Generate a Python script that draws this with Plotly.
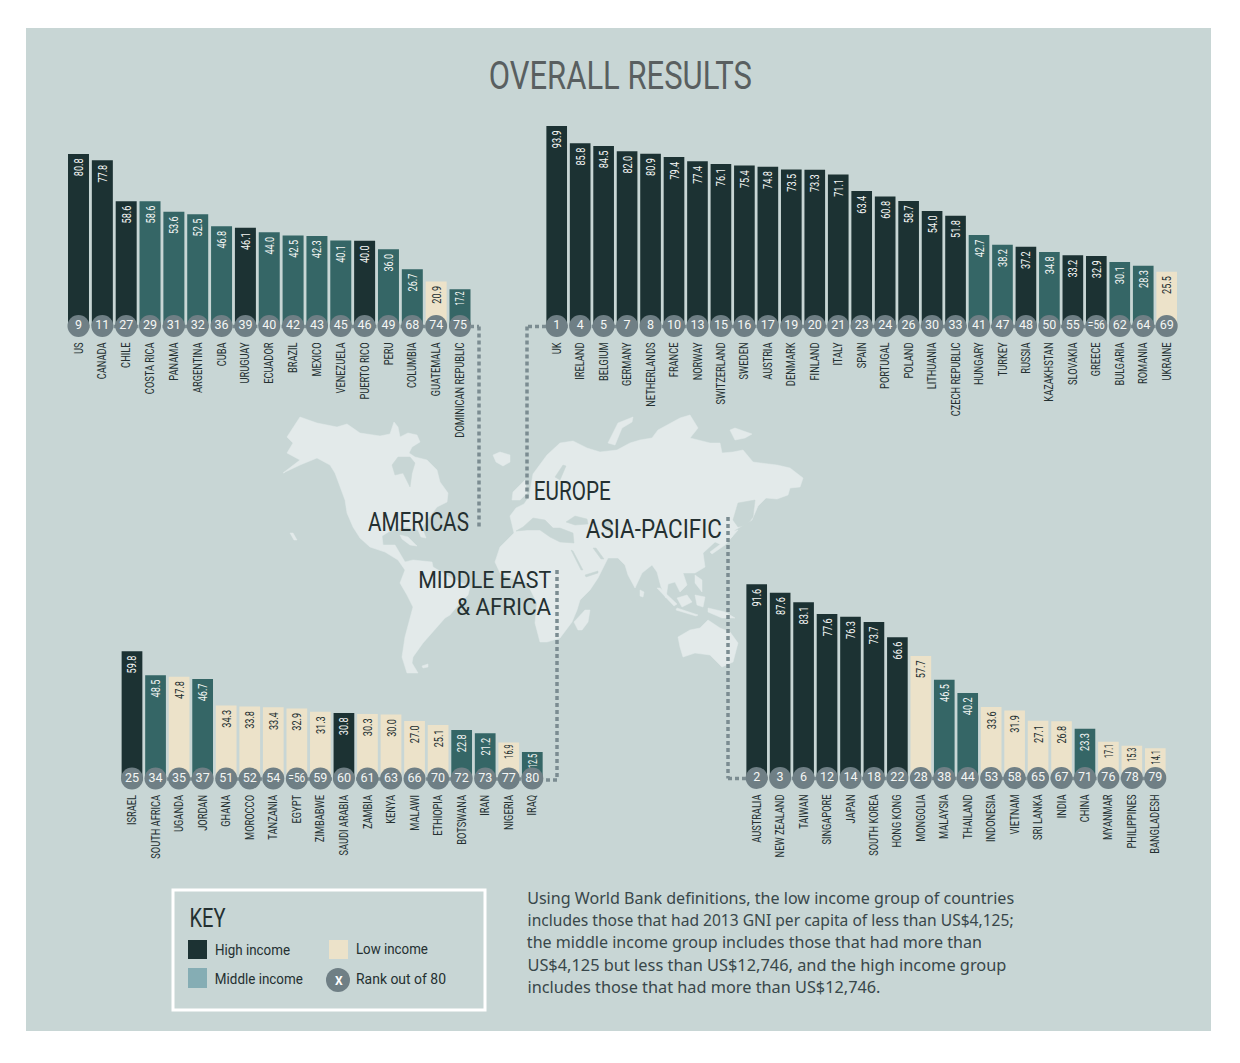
import json

import plotly.graph_objects as go

W, H = 1240, 1063
FONT = "Roboto, sans-serif"
BODY = "Noto Sans, sans-serif"

HIGH, MIDDLE, LOW = "#1c3233", "#356666", "#ece2c9"
KEY_MIDDLE = "#85adb4"
PANEL = "#c8d6d5"
LAND = "#e3eaea"
BADGE = "#6f7f85"
DOTS = "#7b8c91"
INK = "#243031"

income_colors = {"H": HIGH, "M": MIDDLE, "L": LOW}

americas_countries = ["US", "CANADA", "CHILE", "COSTA RICA", "PANAMA", "ARGENTINA", "CUBA", "URUGUAY", "ECUADOR",
                      "BRAZIL", "MEXICO", "VENEZUELA", "PUERTO RICO", "PERU", "COLUMBIA", "GUATEMALA",
                      "DOMINICAN REPUBLIC"]
americas_values = [80.8, 77.8, 58.6, 58.6, 53.6, 52.5, 46.8, 46.1, 44.0, 42.5, 42.3, 40.1, 40.0, 36.0, 26.7, 20.9, 17.2]
americas_ranks = ["9", "11", "27", "29", "31", "32", "36", "39", "40", "42", "43", "45", "46", "49", "68", "74", "75"]
americas_income = list("HHHMMMMHMMMMHMMLM")

europe_countries = ["UK", "IRELAND", "BELGIUM", "GERMANY", "NETHERLANDS", "FRANCE", "NORWAY", "SWITZERLAND", "SWEDEN",
                    "AUSTRIA", "DENMARK", "FINLAND", "ITALY", "SPAIN", "PORTUGAL", "POLAND", "LITHUANIA",
                    "CZECH REPUBLIC", "HUNGARY", "TURKEY", "RUSSIA", "KAZAKHSTAN", "SLOVAKIA", "GREECE", "BULGARIA",
                    "ROMANIA", "UKRAINE"]
europe_values = [93.9, 85.8, 84.5, 82.0, 80.9, 79.4, 77.4, 76.1, 75.4, 74.8, 73.5, 73.3, 71.1, 63.4, 60.8, 58.7, 54.0,
                 51.8, 42.7, 38.2, 37.2, 34.8, 33.2, 32.9, 30.1, 28.3, 25.5]
europe_ranks = ["1", "4", "5", "7", "8", "10", "13", "15", "16", "17", "19", "20", "21", "23", "24", "26", "30", "33",
                "41", "47", "48", "50", "55", "=56", "62", "64", "69"]
europe_income = list("HHHHHHHHHHHHHHHHHHMMHMHHMML")

mea_countries = ["ISRAEL", "SOUTH AFRICA", "UGANDA", "JORDAN", "GHANA", "MOROCCO", "TANZANIA", "EGYPT", "ZIMBABWE",
                 "SAUDI ARABIA", "ZAMBIA", "KENYA", "MALAWI", "ETHIOPIA", "BOTSWANA", "IRAN", "NIGERIA", "IRAQ"]
mea_values = [59.8, 48.5, 47.8, 46.7, 34.3, 33.8, 33.4, 32.9, 31.3, 30.8, 30.3, 30.0, 27.0, 25.1, 22.8, 21.2, 16.9, 12.5]
mea_ranks = ["25", "34", "35", "37", "51", "52", "54", "=56", "59", "60", "61", "63", "66", "70", "72", "73", "77", "80"]
mea_income = list("HMLMLLLLLHLLLLMMLM")

apac_countries = ["AUSTRALIA", "NEW ZEALAND", "TAIWAN", "SINGAPORE", "JAPAN", "SOUTH KOREA", "HONG KONG", "MONGOLIA",
                  "MALAYSIA", "THAILAND", "INDONESIA", "VIETNAM", "SRI LANKA", "INDIA", "CHINA", "MYANMAR",
                  "PHILIPPINES", "BANGLADESH"]
apac_values = [91.6, 87.6, 83.1, 77.6, 76.3, 73.7, 66.6, 57.7, 46.5, 40.2, 33.6, 31.9, 27.1, 26.8, 23.3, 17.1, 15.3, 14.1]
apac_ranks = ["2", "3", "6", "12", "14", "18", "22", "28", "38", "44", "53", "58", "65", "67", "71", "76", "78", "79"]
apac_income = list("HHHHHHHLMMLLLLMLLL")

# rough coastlines, traced in picture pixels
land_shapes = [
    # north + central + south america
    [(287, 437), (300, 417), (317, 423), (337, 427), (347, 424), (360, 433), (380, 436), (390, 434), (394, 422),
     (398, 427), (400, 437), (408, 433), (417, 435), (420, 442), (412, 447), (409, 453), (415, 457), (427, 460),
     (437, 470), (440, 482), (448, 493), (447, 502), (437, 507), (433, 512), (427, 520), (422, 528), (426, 538),
     (421, 537), (418, 530), (407, 527), (390, 531), (382, 536), (383, 545), (395, 545), (400, 553), (405, 562),
     (413, 560), (432, 562), (433, 567), (450, 577), (470, 587), (468, 595), (460, 603), (450, 615), (445, 618),
     (432, 633), (423, 643), (413, 657), (412, 663), (418, 673), (407, 673), (402, 657), (405, 637), (413, 607),
     (407, 595), (400, 583), (405, 570), (398, 560), (385, 552), (370, 547), (360, 538), (353, 527), (347, 513),
     (345, 500), (335, 473), (330, 465), (317, 458), (300, 465), (283, 473), (300, 460), (287, 453), (293, 443)],
    # europe, asia, africa
    [(510, 516), (516, 508), (524, 504), (529, 497), (533, 474), (547, 455), (560, 443), (573, 441), (587, 448),
     (600, 452), (617, 450), (630, 443), (640, 440), (652, 438), (658, 430), (680, 418), (690, 415), (698, 428),
     (690, 438), (710, 443), (720, 443), (722, 453), (733, 452), (743, 450), (753, 462), (777, 465), (790, 468),
     (803, 478), (800, 487), (790, 488), (788, 495), (777, 499), (766, 498), (758, 506), (752, 520), (745, 524),
     (735, 530), (732, 537), (722, 545), (715, 542), (708, 548), (703, 553), (705, 567), (695, 573), (683, 573),
     (687, 585), (680, 592), (675, 582), (668, 584), (666, 598), (661, 587), (657, 572), (652, 565), (642, 573),
     (635, 588), (628, 575), (625, 565), (618, 558), (608, 558), (603, 568), (598, 578), (590, 590), (580, 600),
     (577, 610), (572, 622), (560, 638), (547, 642), (540, 642), (535, 623), (537, 603), (527, 583), (510, 578),
     (500, 573), (495, 562), (500, 547), (510, 537), (514, 533)],
    # madagascar, britain, iceland, novaya zemlya, arctic island
    [(578, 630), (574, 622), (585, 610), (590, 610), (588, 622), (582, 630)],
    [(512, 500), (513, 492), (518, 487), (525, 480), (527, 493), (520, 500)],
    [(493, 455), (500, 452), (510, 455), (510, 462), (503, 466), (496, 462)],
    [(608, 443), (618, 423), (633, 417), (632, 422), (622, 428), (615, 445)],
    [(730, 430), (735, 428), (752, 434), (745, 438), (735, 440)],
    # japan, south-east asia, australia
    [(735, 531), (738, 530), (725, 545), (712, 554), (710, 552), (722, 543)],
    [(657, 588), (660, 588), (677, 604), (674, 606)],
    [(677, 608), (698, 615), (696, 616), (676, 610)],
    [(677, 598), (687, 595), (692, 602), (682, 607)],
    [(695, 595), (705, 597), (703, 607), (697, 605)],
    [(695, 575), (702, 580), (702, 592), (695, 583)],
    [(708, 608), (725, 612), (735, 618), (722, 618), (708, 612)],
    [(640, 590), (644, 592), (643, 597), (640, 596)],
    [(678, 637), (690, 630), (700, 628), (708, 620), (720, 628), (730, 632), (738, 643), (733, 662), (722, 667),
     (710, 655), (695, 653), (683, 657), (680, 647)],
    # cuba, hawaii, falklands
    [(400, 535), (408, 537), (417, 546), (410, 545), (402, 539)],
    [(290, 533), (293, 533), (297, 540), (294, 540)],
    [(422, 666), (428, 664), (428, 667), (423, 668)],
]
water_shapes = [
    # hudson bay, mediterranean, black sea, caspian, baltic, red sea, aden, persian gulf, okhotsk
    [(392, 465), (398, 457), (410, 457), (415, 463), (412, 473), (410, 487), (403, 473), (395, 475)],
    [(516, 531), (523, 527), (533, 518), (545, 520), (553, 528), (560, 528), (573, 533), (574, 543), (560, 542),
     (550, 537), (540, 530), (527, 530)],
    [(566, 522), (575, 516), (587, 519), (588, 524), (575, 525)],
    [(604, 520), (610, 520), (611, 532), (605, 530)],
    [(555, 477), (563, 465), (566, 466), (560, 480)],
    [(571, 550), (573, 551), (583, 570), (581, 570)],
    [(585, 575), (598, 571), (598, 573), (586, 577)],
    [(593, 548), (596, 548), (604, 559), (601, 559)],
    [(738, 503), (755, 500), (753, 517), (747, 525), (738, 527), (733, 520)],
]

# dotted connectors between each chart and its map label
connectors = [
    [(470, 326.5), (479, 326.5), (479, 528)],
    [(546, 326.5), (527, 326.5), (527, 500)],
    [(728, 517), (728, 778.5), (747, 778.5)],
    [(557, 570), (557, 780), (543, 780)],
]

# text, left edge, right edge, middle y, font size
title_label = ("OVERALL RESULTS", 489, 752, 76, 38)
region_labels = [
    ("AMERICAS", 368, 469, 522, 26),
    ("EUROPE", 534, 611, 491, 26),
    ("ASIA-PACIFIC", 586, 722, 529, 26),
]
mea_label_lines = ["MIDDLE EAST", "& AFRICA"]
mea_line_widths = [133, 95]
key_labels = [
    ("KEY", 189, 225, 918, 25),
    ("High income", 215, 290, 949.5, 15.5),
    ("Middle income", 215, 303, 978.5, 15.5),
    ("Low income", 356, 428, 948.5, 15.5),
    ("Rank out of 80", 356, 446, 978.5, 15.5),
]
note_labels = [
    ("Using World Bank definitions, the low income group of countries", 527, 1014, 897.5, 15.5),
    ("includes those that had 2013 GNI per capita of less than US$4,125;", 527, 1013, 920, 15.5),
    ("the middle income group includes those that had more than", 527, 982, 942, 15.5),
    ("US$4,125 but less than US$12,746, and the high income group", 527, 1006, 964.5, 15.5),
    ("includes those that had more than US$12,746.", 527, 880, 987, 15.5),
]

# the reference type is very condensed and no such font is installed,
# so the real text gets squeezed along its baseline once the page has drawn it
SQUEEZE_JS = """
document.body.style.margin = '0';
var targetWidths = %s;
var meaWidths = %s;
function squeeze(el, width) {
    el.setAttribute('lengthAdjust', 'spacingAndGlyphs');
    el.setAttribute('textLength', width);
}
document.querySelectorAll('.annotation-text').forEach(function (el) {
    var width = targetWidths[el.textContent];
    if (width) { squeeze(el, width); }
    var lines = el.querySelectorAll('tspan.line');
    if (lines.length === 2) {
        squeeze(lines[0], meaWidths[0]);
        squeeze(lines[1], meaWidths[1]);
        lines[1].setAttribute('dy', '27px');
    }
});
document.querySelectorAll('.xaxislayer-above text').forEach(function (el) {
    squeeze(el, el.getComputedTextLength() * 0.74);
});
document.querySelectorAll('text.bartext').forEach(function (el) {
    var bar = el.parentNode.querySelector('path');
    var barBox = bar.getBoundingClientRect();
    // short bars keep their label clear of the rank badge
    var short = barBox.height < 40;
    squeeze(el, el.getComputedTextLength() * (short ? 0.56 : 0.7));
    var shift = el.getBoundingClientRect().top - (barBox.top + (short ? 2 : 4.5));
    el.setAttribute('x', parseFloat(el.getAttribute('x') || 0) + shift);
});
document.querySelectorAll('.textpoint text').forEach(function (el) {
    if (el.textContent.charAt(0) === '=') { squeeze(el, 17); }
});
"""


def px_x(x):
    return x / W


def px_y(y):
    return 1 - y / H


def outline_xy(shapes):
    xs, ys = [], []
    for shape in shapes:
        closed = shape + [shape[0]]
        xs += [p[0] for p in closed] + [None]
        ys += [p[1] for p in closed] + [None]
    return xs, ys


def add_region(fig, n, countries, values, ranks, income, first_x, last_x, baseline, scale):
    step = (last_x - first_x) / (len(countries) - 1)
    xname, yname = f"xaxis{n}", f"yaxis{n}"
    xref, yref = f"x{n}", f"y{n}"
    fig.add_trace(go.Bar(
        x=countries, y=values, xaxis=xref, yaxis=yref,
        width=0.88,
        marker=dict(color=[income_colors[i] for i in income], line_width=0),
        text=[f"{v:.1f}" for v in values],
        textposition="inside", insidetextanchor="end", textangle=-90, constraintext="none",
        textfont=dict(family=FONT, size=13, color=[INK if i == "L" else "#f4f6f4" for i in income]),
        hoverinfo="skip",
    ))
    fig.add_trace(go.Scatter(
        x=countries, y=[0] * len(countries), xaxis=xref, yaxis=yref,
        mode="markers+text", cliponaxis=False,
        marker=dict(size=22, color=BADGE, line_width=0),
        text=ranks, textposition="middle center",
        textfont=dict(family=FONT, size=12.5, color="#f4f6f4"),
        hoverinfo="skip",
    ))
    fig.update_layout({
        xname: dict(
            domain=[px_x(first_x - step / 2), px_x(last_x + step / 2)],
            anchor=yref, type="category", range=[-0.5, len(countries) - 0.5],
            tickmode="linear", dtick=1, tickangle=-90, ticks="", ticklabelstandoff=13,
            tickfont=dict(family=FONT, size=12.5, color=INK),
            showgrid=False, zeroline=False, showline=False,
        ),
        yname: dict(
            domain=[px_y(baseline), px_y(baseline - 100 * scale)],
            anchor=xref, range=[0, 100], visible=False,
        ),
    })
    fig.add_shape(type="line", xref="paper", yref="paper", layer="below",
                  x0=px_x(first_x), x1=px_x(last_x), y0=px_y(baseline + 0.5), y1=px_y(baseline + 0.5),
                  line=dict(color=DOTS, width=3.5, dash="4px,3px"))


def add_labels(fig, labels, color=INK, family=FONT):
    for text, left, right, y, size in labels:
        fig.add_annotation(text=text, x=px_x((left + right) / 2), y=px_y(y), xref="paper", yref="paper",
                           showarrow=False, xanchor="center", yanchor="middle",
                           font=dict(family=family, size=size, color=color))


def add_rect(fig, x0, y0, x1, y1, fill, line=None, line_width=0):
    fig.add_shape(type="rect", xref="paper", yref="paper", layer="below",
                  x0=px_x(x0), x1=px_x(x1), y0=px_y(y0), y1=px_y(y1),
                  fillcolor=fill, line=dict(color=line or fill, width=line_width))


fig = go.Figure()

land_x, land_y = outline_xy(land_shapes)
water_x, water_y = outline_xy(water_shapes)
fig.add_trace(go.Scatter(x=land_x, y=land_y, mode="lines", fill="toself", fillcolor=LAND,
                         line=dict(color=LAND, width=0.5), hoverinfo="skip"))
fig.add_trace(go.Scatter(x=water_x, y=water_y, mode="lines", fill="toself", fillcolor=PANEL,
                         line=dict(color=PANEL, width=0.5), hoverinfo="skip"))

add_rect(fig, 26, 28, 1211, 1031, PANEL)

add_region(fig, 2, americas_countries, americas_values, americas_ranks, americas_income, 78.5, 460, 326, 2.13)
add_region(fig, 3, europe_countries, europe_values, europe_ranks, europe_income, 556.7, 1166.7, 326, 2.13)
add_region(fig, 4, mea_countries, mea_values, mea_ranks, mea_income, 132, 532.3, 778.5, 2.13)
add_region(fig, 5, apac_countries, apac_values, apac_ranks, apac_income, 756.7, 1155.3, 778, 2.115)

for path in connectors:
    for (x0, y0), (x1, y1) in zip(path, path[1:]):
        fig.add_shape(type="line", xref="paper", yref="paper",
                      x0=px_x(x0), x1=px_x(x1), y0=px_y(y0), y1=px_y(y1),
                      line=dict(color=DOTS, width=3.5, dash="4px,3px"))

add_labels(fig, [title_label], color="#595f60")
add_labels(fig, region_labels)
fig.add_annotation(text="<br>".join(mea_label_lines), x=px_x(553), y=px_y(595.5), xref="paper", yref="paper",
                   showarrow=False, xanchor="right", yanchor="middle", align="right",
                   font=dict(family=FONT, size=23, color=INK))
add_labels(fig, key_labels)
add_labels(fig, note_labels, color="#38474a", family=BODY)

# key box
add_rect(fig, 173, 890, 485, 1010, "rgba(0,0,0,0)", line="#ffffff", line_width=3)
add_rect(fig, 188, 940, 207, 959, HIGH)
add_rect(fig, 188, 968, 207, 988, KEY_MIDDLE)
add_rect(fig, 329, 940, 348, 959, LOW)
fig.add_shape(type="circle", xref="paper", yref="paper", x0=px_x(326), x1=px_x(350), y0=px_y(968), y1=px_y(992),
              fillcolor=BADGE, line_width=0)
add_labels(fig, [("<b>X</b>", 334, 343, 981, 12)], color="#ffffff")

fig.update_layout(
    width=W, height=H, autosize=False,
    margin=dict(l=0, r=0, t=0, b=0),
    paper_bgcolor="#ffffff", plot_bgcolor="rgba(0,0,0,0)",
    showlegend=False, barmode="overlay",
    xaxis=dict(domain=[0, 1], range=[0, W], visible=False),
    yaxis=dict(domain=[0, 1], range=[H, 0], visible=False),
)

target_widths = {label[0]: label[2] - label[1] for label in [title_label] + region_labels + key_labels + note_labels}

fig.write_html("out.html", config={"displayModeBar": False},
               post_script=SQUEEZE_JS % (json.dumps(target_widths), json.dumps(mea_line_widths)))
